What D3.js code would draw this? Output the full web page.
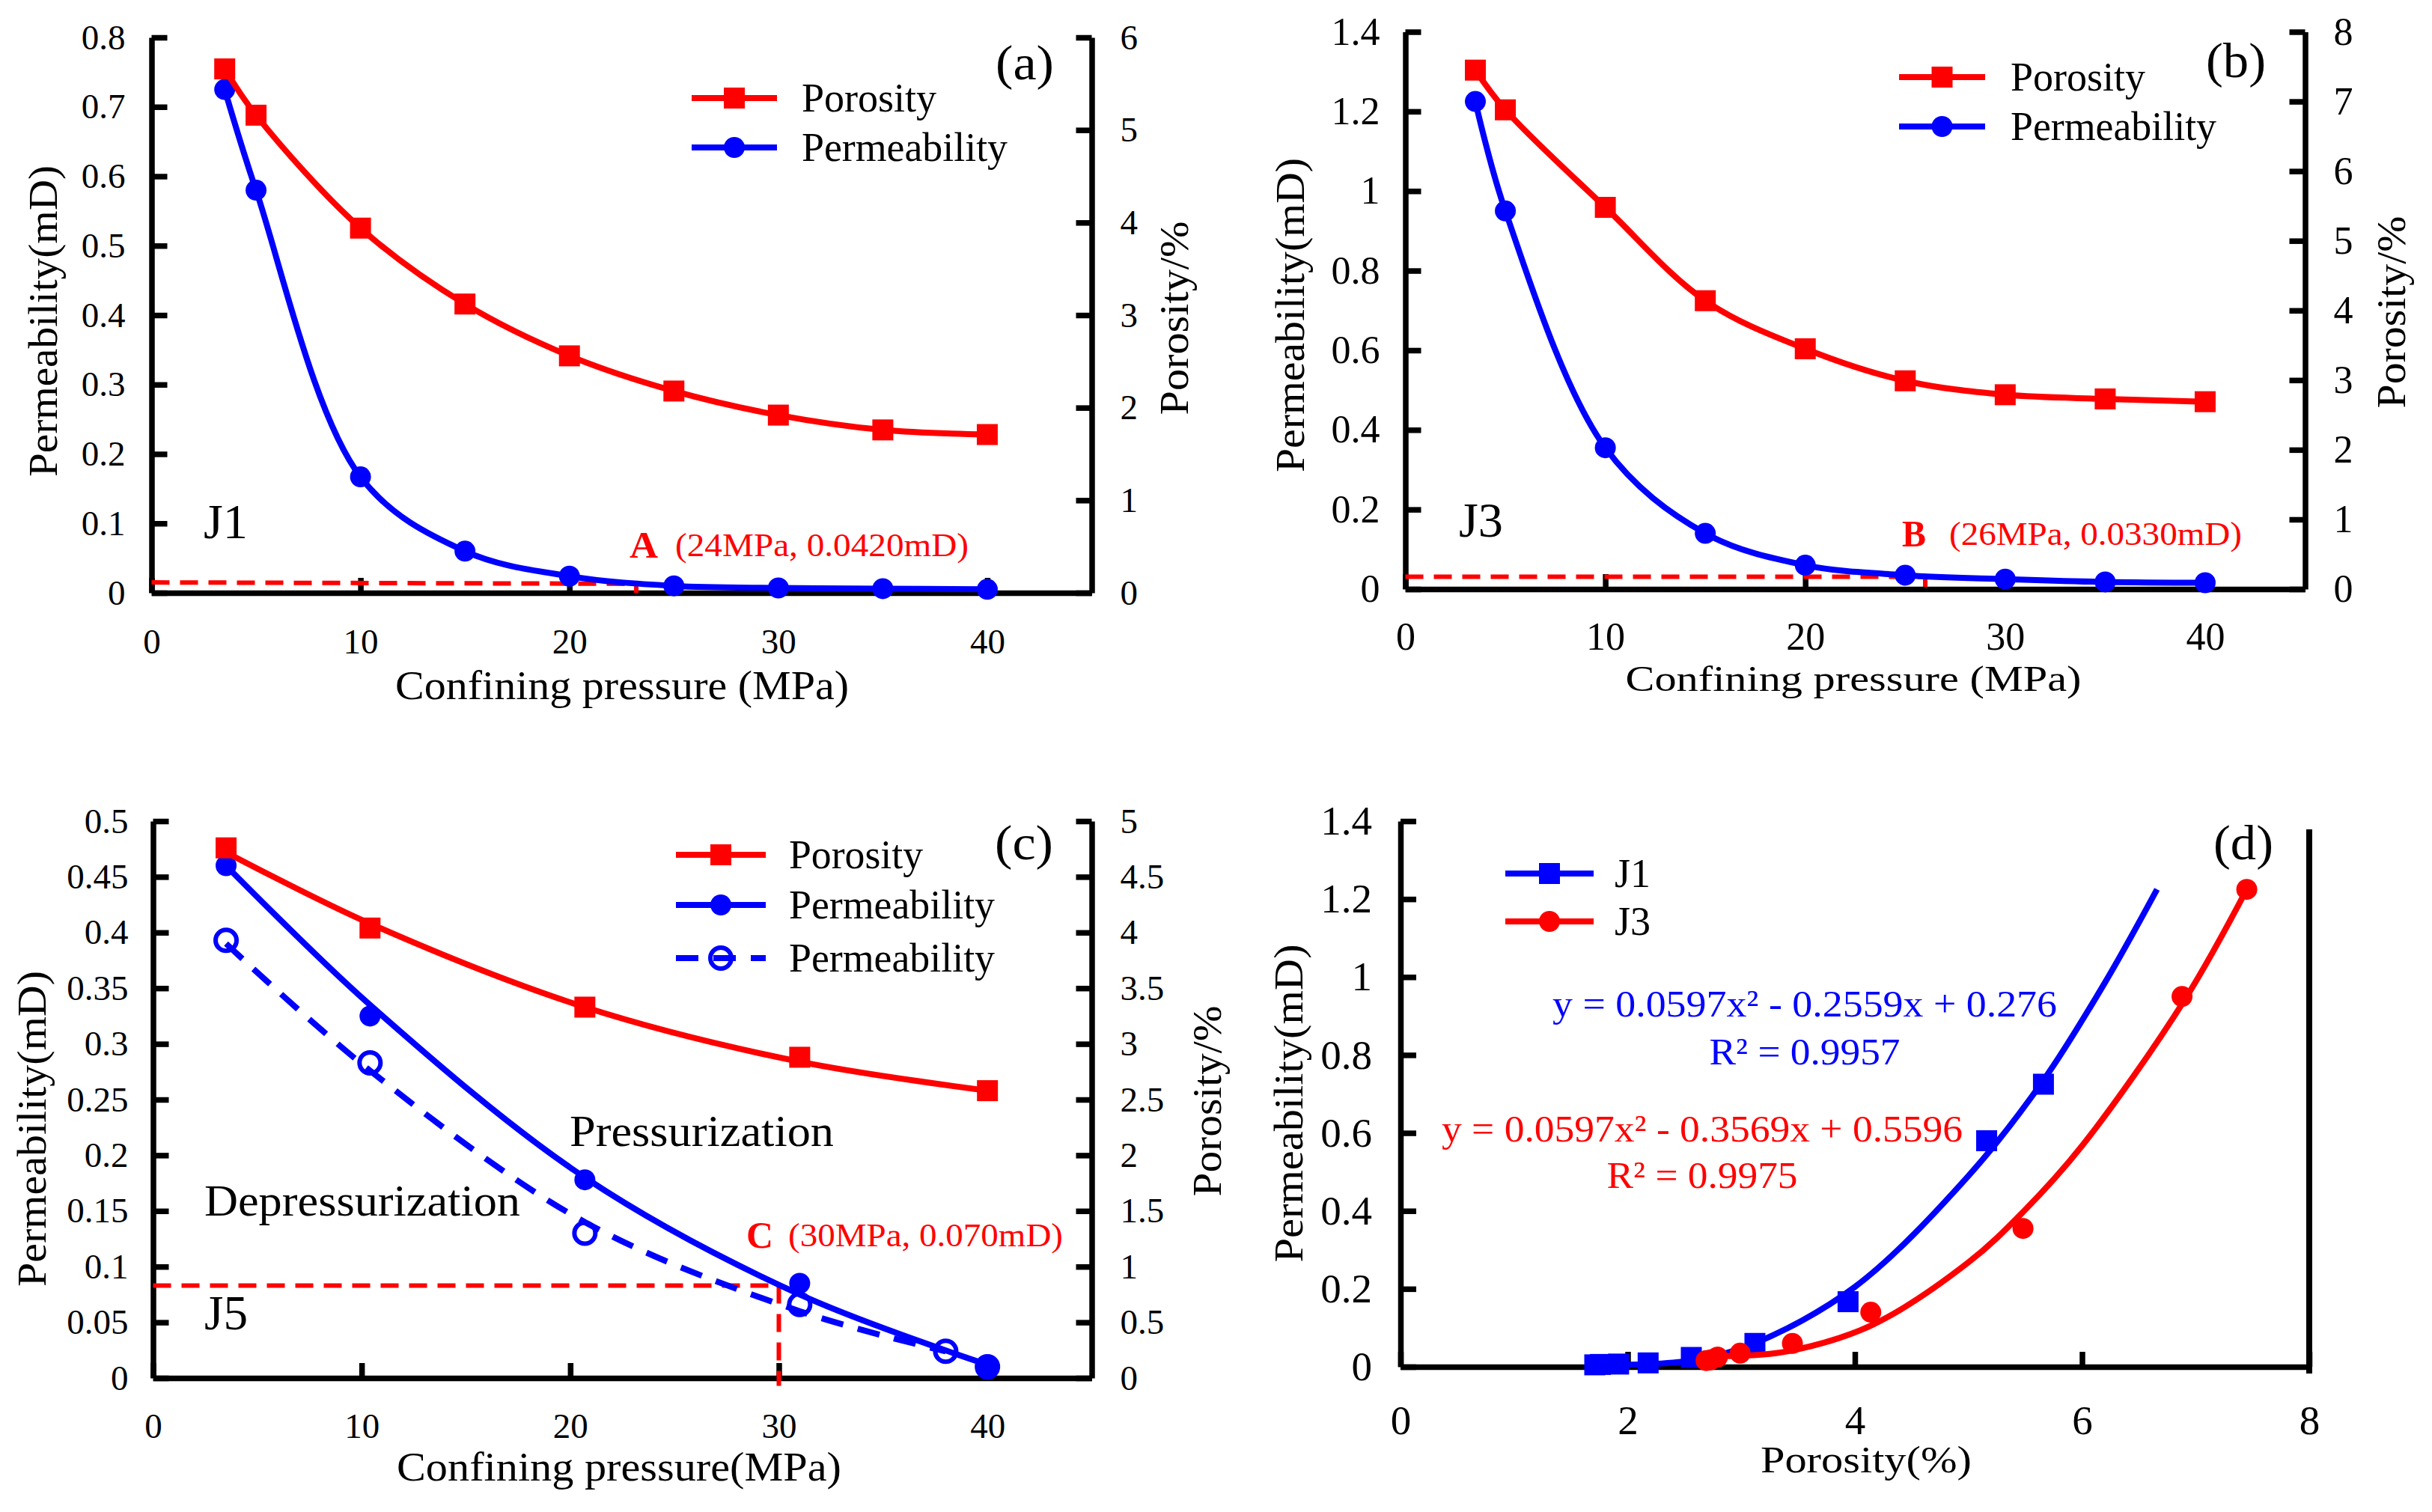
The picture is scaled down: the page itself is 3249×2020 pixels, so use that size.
<!DOCTYPE html>
<html>
  <head>
    <title>Permeability and porosity vs confining pressure</title>
    <script src="https://d3js.org/d3.v7.min.js"></script>
    <style>
      html, body { margin: 0; padding: 0; background: #fff; }
      svg { display: block; }
      text { font-family: "Liberation Serif", serif; }
      .axis .domain, .axis .tick line { stroke: #000; stroke-width: 7.5px; }
      .axis .tick text { fill: #000; }
    </style>
  </head>
  <body>
    <svg width="3249" height="2020"></svg>
    <script>
      // panel (a) J1
      const pressureA = [3.5, 5, 10, 15, 20, 25, 30, 35, 40];
      const permA = [0.725, 0.58, 0.167, 0.06, 0.024, 0.01, 0.007, 0.006, 0.005];
      const poroA = [5.66, 5.16, 3.94, 3.12, 2.56, 2.18, 1.92, 1.76, 1.71];
      const refA = [[0, 0.015], [23.2, 0.013], [23.2, 0]];
      // panel (b) J3
      const pressureB = [3.5, 5, 10, 15, 20, 25, 30, 35, 40];
      const permB = [1.225, 0.95, 0.355, 0.14, 0.06, 0.035, 0.025, 0.018, 0.016];
      const poroB = [7.45, 6.88, 5.48, 4.14, 3.45, 2.99, 2.79, 2.73, 2.69];
      const refB = [[0, 0.031], [26, 0.031], [26, 0]];
      // panel (c) J5
      const pressureC = [3.5, 10.4, 20.7, 31, 40];
      const permC = [0.46, 0.325, 0.178, 0.085, 0.01];
      const permLineC = [0.46, 0.335, 0.18, 0.075, 0.012];
      const poroC = [4.76, 4.04, 3.33, 2.88, 2.58];
      const poroLineC = [4.72, 4.08, 3.33, 2.84, 2.58];
      const pressureDownC = [3.5, 10.4, 20.7, 31, 38, 40];
      const permDownC = [0.393, 0.283, 0.13, 0.066, 0.024, 0.01];
      const pressureDownLineC = [3.5, 10.4, 20.7, 31, 38];
      const permDownLineC = [0.39, 0.276, 0.14, 0.06, 0.024];
      const refC = [[0, 0.083], [30, 0.083], [30, -0.007]];
      // panel (d) fits
      const fitXJ1 = [1.71, 2.2, 2.6, 3.1, 4, 5, 5.66, 6.2, 6.66];
      const fitYJ1 = [0.005, 0.007, 0.018, 0.058, 0.205, 0.49, 0.735, 0.985, 1.225];
      const fitXJ3 = [2.69, 3, 3.45, 4.15, 5, 5.48, 6, 6.9, 7.45];
      const fitYJ3 = [0.03, 0.028, 0.042, 0.107, 0.268, 0.397, 0.567, 0.94, 1.225];

      const zip = (xs, ys) => xs.map((x, i) => [x, ys[i]]);
      const fmt = d => String(d);
      const RED = "#ff0000";
      const BLUE = "#0000ff";

      const svg = d3.select("svg");

      function label(txt, x, y, o) {
        const t = svg.append("text")
            .attr("text-anchor", o.anchor || "start")
            .attr("dominant-baseline", "central")
            .attr("font-size", o.size)
            .attr("font-weight", o.bold ? "bold" : "normal")
            .attr("fill", o.fill || "#000")
            .text(txt);
        if (o.rotate) t.attr("transform", `translate(${x},${y}) rotate(-90)`);
        else t.attr("x", x).attr("y", y);
        if (o.width) t.attr("textLength", o.width).attr("lengthAdjust", "spacingAndGlyphs");
        return t;
      }

      function square(g, cx, cy, color) {
        g.append("rect").attr("x", cx - 14).attr("y", cy - 14)
          .attr("width", 28).attr("height", 28).attr("fill", color);
      }
      function dot(g, cx, cy, color) {
        g.append("circle").attr("cx", cx).attr("cy", cy).attr("r", 14).attr("fill", color);
      }
      function ring(g, cx, cy, color) {
        g.append("circle").attr("cx", cx).attr("cy", cy).attr("r", 14)
          .attr("fill", "none").attr("stroke", color).attr("stroke-width", 6);
      }

      function curve(pts, x, y, color, dash) {
        const line = d3.line()
          .x(d => x(d[0])).y(d => y(d[1]))
          .curve(d3.curveCatmullRom.alpha(0.5));
        svg.append("path").attr("d", line(pts))
          .attr("fill", "none").attr("stroke", color).attr("stroke-width", 8)
          .attr("stroke-dasharray", dash || null);
      }

      function refLine(pts, x, y) {
        const line = d3.line().x(d => x(d[0])).y(d => y(d[1]));
        svg.append("path").attr("d", line(pts))
          .attr("fill", "none").attr("stroke", RED).attr("stroke-width", 6)
          .attr("stroke-dasharray", "24 14");
      }

      function axes(p, x, yL, yR) {
        const xAxis = d3.axisBottom(x).tickValues(p.xTicks).tickFormat(fmt)
          .tickSizeInner(-20).tickSizeOuter(0).tickPadding(p.xPad);
        const yAxis = d3.axisLeft(yL).tickValues(p.yTicks).tickFormat(fmt)
          .tickSizeInner(-21).tickSizeOuter(0).tickPadding(p.yPad);
        const gx = svg.append("g").attr("class", "axis")
          .attr("transform", `translate(0,${p.bottom})`).call(xAxis);
        const gy = svg.append("g").attr("class", "axis")
          .attr("transform", `translate(${p.left},0)`).call(yAxis);
        const gs = [gx, gy];
        if (yR) {
          const rAxis = d3.axisRight(yR).tickValues(p.rTicks).tickFormat(fmt)
            .tickSizeInner(-21).tickSizeOuter(0).tickPadding(p.rPad);
          gs.push(svg.append("g").attr("class", "axis")
            .attr("transform", `translate(${p.right},0)`).call(rAxis));
        }
        gs.forEach(g => g.selectAll(".tick text").attr("font-size", p.tickSize));
      }

      function legendRow(x0, x1, y, textX, name, w, color, marker, dash) {
        svg.append("line").attr("x1", x0).attr("x2", x1).attr("y1", y).attr("y2", y)
          .attr("stroke", color).attr("stroke-width", 8)
          .attr("stroke-dasharray", dash || null);
        marker(svg, (x0 + x1) / 2, y, color);
        label(name, textX, y, {size: 54, width: w});
      }

      function dualPanel(p, pressure, perm, poro, ref) {
        const x = d3.scaleLinear().domain([0, 45]).range([p.left, p.right]);
        const yL = d3.scaleLinear().domain(p.yDomain).range([p.bottom, p.top]);
        const yR = d3.scaleLinear().domain(p.rDomain).range([p.bottom, p.top]);
        axes(p, x, yL, yR);
        refLine(ref, x, yL);
        curve(zip(pressure, perm), x, yL, BLUE);
        zip(pressure, perm).forEach(d => dot(svg, x(d[0]), yL(d[1]), BLUE));
        curve(zip(pressure, poro), x, yR, RED);
        zip(pressure, poro).forEach(d => square(svg, x(d[0]), yR(d[1]), RED));
      }

      // (a)
      dualPanel({
        left: 202.5, right: 1458.5, top: 50, bottom: 792,
        xTicks: [0, 10, 20, 30, 40], yTicks: d3.range(0, 9).map(d => d / 10), rTicks: d3.range(0, 7),
        yDomain: [0, 0.8], rDomain: [0, 6], tickSize: 47, xPad: 48, yPad: 35, rPad: 38
      }, pressureA, permA, poroA, refA);
      label("Permeability(mD)", 58, 429, {size: 54, anchor: "middle", rotate: true, width: 416});
      label("Porosity/%", 1569, 425, {size: 54, anchor: "middle", rotate: true, width: 259});
      label("Confining pressure (MPa)", 831, 916, {size: 54, anchor: "middle", width: 606});
      label("(a)", 1369, 83, {size: 66, anchor: "middle", width: 78});
      label("J1", 272, 696, {size: 66, width: 59});
      label("A", 841, 728, {size: 50, bold: true, fill: RED, width: 38});
      label("(24MPa, 0.0420mD)", 902, 728, {size: 44, fill: RED, width: 392});
      legendRow(924, 1038, 131, 1071, "Porosity", 180, RED, square);
      legendRow(924, 1038, 197, 1071, "Permeability", 275, BLUE, dot);

      // (b)
      dualPanel({
        left: 1877.5, right: 3079.5, top: 42.5, bottom: 787,
        xTicks: [0, 10, 20, 30, 40], yTicks: d3.range(0, 8).map(d => d / 5), rTicks: d3.range(0, 9),
        yDomain: [0, 1.4], rDomain: [0, 8], tickSize: 52, xPad: 44, yPad: 34, rPad: 38
      }, pressureB, permB, poroB, refB);
      label("Permeability(mD)", 1724, 421, {size: 54, anchor: "middle", rotate: true, width: 420});
      label("Porosity/%", 3195, 417, {size: 54, anchor: "middle", rotate: true, width: 257});
      label("Confining pressure (MPa)", 2476, 906, {size: 48, anchor: "middle", width: 609});
      label("(b)", 2987, 80, {size: 66, anchor: "middle", width: 80});
      label("J3", 1949, 694, {size: 66, width: 59});
      label("B", 2541, 713, {size: 50, bold: true, fill: RED, width: 32});
      label("(26MPa, 0.0330mD)", 2604, 713, {size: 44, fill: RED, width: 391});
      legendRow(2537, 2652, 103, 2686, "Porosity", 180, RED, square);
      legendRow(2537, 2652, 169, 2686, "Permeability", 275, BLUE, dot);

      // (c)
      const panelC = {
        left: 204.5, right: 1458.5, top: 1097, bottom: 1841,
        xTicks: [0, 10, 20, 30, 40], yTicks: d3.range(0, 11).map(d => d / 20), rTicks: d3.range(0, 11).map(d => d / 2),
        tickSize: 47, xPad: 47, yPad: 33, rPad: 38
      };
      const xC = d3.scaleLinear().domain([0, 45]).range([panelC.left, panelC.right]);
      const yC = d3.scaleLinear().domain([0, 0.5]).range([panelC.bottom, panelC.top]);
      const rC = d3.scaleLinear().domain([0, 5]).range([panelC.bottom, panelC.top]);
      axes(panelC, xC, yC, rC);
      refLine(refC, xC, yC);
      curve(zip(pressureDownLineC, permDownLineC), xC, yC, BLUE, "30 20");
      zip(pressureDownC, permDownC).forEach(d => ring(svg, xC(d[0]), yC(d[1]), BLUE));
      curve(zip(pressureC, permLineC), xC, yC, BLUE);
      zip(pressureC, permC).forEach(d => dot(svg, xC(d[0]), yC(d[1]), BLUE));
      curve(zip(pressureC, poroLineC), xC, rC, RED);
      zip(pressureC, poroC).forEach(d => square(svg, xC(d[0]), rC(d[1]), RED));
      label("Permeability(mD)", 43, 1508, {size: 54, anchor: "middle", rotate: true, width: 422});
      label("Porosity/%", 1613, 1471, {size: 54, anchor: "middle", rotate: true, width: 255});
      label("Confining pressure(MPa)", 827, 1960, {size: 54, anchor: "middle", width: 594});
      label("(c)", 1368, 1125, {size: 66, anchor: "middle", width: 78});
      label("Pressurization", 761, 1511, {size: 60, width: 353});
      label("Depressurization", 273, 1604, {size: 60, width: 422});
      label("J5", 273, 1753, {size: 66, width: 58});
      label("C", 997, 1650, {size: 50, bold: true, fill: RED, width: 36});
      label("(30MPa, 0.070mD)", 1053, 1650, {size: 44, fill: RED, width: 367});
      legendRow(903, 1023, 1142, 1054, "Porosity", 179, RED, square);
      legendRow(903, 1023, 1209, 1054, "Permeability", 275, BLUE, dot);
      legendRow(903, 1023, 1280, 1054, "Permeability", 275, BLUE, ring, "30 20");

      // (d)
      const panelD = {
        left: 1871, right: 3085, top: 1097, bottom: 1826,
        xTicks: [0, 2, 4, 6, 8], yTicks: d3.range(0, 8).map(d => d / 5),
        tickSize: 55, xPad: 51, yPad: 38
      };
      const xD = d3.scaleLinear().domain([0, 8]).range([panelD.left, panelD.right]);
      const yD = d3.scaleLinear().domain([0, 1.4]).range([panelD.bottom, panelD.top]);
      axes(panelD, xD, yD, null);
      svg.append("line").attr("x1", panelD.right).attr("x2", panelD.right)
        .attr("y1", 1108).attr("y2", panelD.bottom + 9)
        .attr("stroke", "#000").attr("stroke-width", 8);
      curve(zip(fitXJ1, fitYJ1), xD, yD, BLUE);
      zip(poroA, permA).forEach(d => square(svg, xD(d[0]), yD(d[1]), BLUE));
      curve(zip(fitXJ3, fitYJ3), xD, yD, RED);
      zip(poroB, permB).forEach(d => dot(svg, xD(d[0]), yD(d[1]), RED));
      label("Permeability(mD)", 1722, 1474, {size: 54, anchor: "middle", rotate: true, width: 425});
      label("Porosity(%)", 2493, 1950, {size: 50, anchor: "middle", width: 282});
      label("(d)", 2997, 1125, {size: 66, anchor: "middle", width: 80});
      legendRow(2011, 2129, 1167, 2157, "J1", 48, BLUE, square);
      legendRow(2011, 2129, 1231, 2157, "J3", 48, RED, dot);
      label("y = 0.0597x² - 0.2559x + 0.276", 2411, 1341, {size: 50, fill: BLUE, anchor: "middle", width: 674});
      label("R² = 0.9957", 2411, 1405, {size: 50, fill: BLUE, anchor: "middle", width: 255});
      label("y = 0.0597x² - 0.3569x + 0.5596", 2274, 1508, {size: 50, fill: RED, anchor: "middle", width: 696});
      label("R² = 0.9975", 2274, 1570, {size: 50, fill: RED, anchor: "middle", width: 255});
    </script>
  </body>
</html>
